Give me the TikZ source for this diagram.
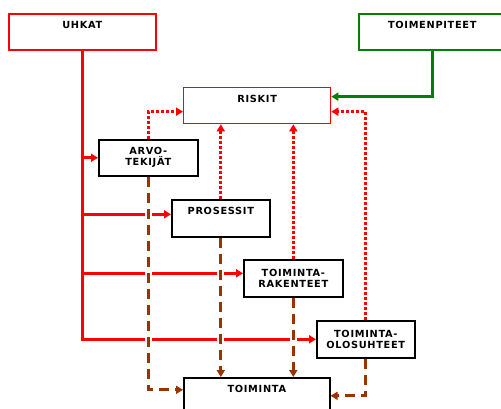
\documentclass[tikz,border=0pt]{standalone}
\usepackage{fontspec}
\setmainfont{DejaVu Sans}
\newfontfamily\lblfont{DejaVu Sans}[LetterSpace=7]
\usetikzlibrary{arrows.meta}
\definecolor{rred}{RGB}{255,0,0}
\definecolor{ggreen}{RGB}{0,128,0}
\definecolor{bbrown}{RGB}{153,51,0}
\pgfdeclarelayer{bg}
\pgfsetlayers{bg,main}
\tikzset{
  box/.style={draw=black, line width=1.6pt, fill=white, anchor=north west,
    font=\lblfont\bfseries\fontsize{9.8}{11}\selectfont, align=center,
    inner xsep=2pt, inner ysep=0pt},
  topbox/.style={text height=7.5pt, text depth=#1, inner ysep=7.5pt},
  redline/.style={draw=rred, line width=3pt, -{Triangle[length=7pt,width=8pt]}},
  reddot/.style={draw=rred, line width=3pt, dash pattern=on 3pt off 2pt, -{Triangle[length=7pt,width=8pt]}},
  greenline/.style={draw=ggreen, line width=3pt, -{Triangle[length=7pt,width=8pt]}},
  brownline/.style={draw=bbrown, line width=3pt, dash pattern=on 10pt off 6pt,
    -{Triangle[length=7pt,width=8pt]},
    preaction={draw=white, line width=7pt, solid}},
}
\begin{document}
\begin{tikzpicture}[x=1pt,y=-1pt]
\useasboundingbox (0,0) rectangle (501,409);
\node[box, draw=rred, topbox=13.5pt, minimum width=147pt] (uh) at (8,13) {UHKAT};
\node[box, draw=ggreen, topbox=13.5pt, minimum width=147pt] (toim) at (358,13) {TOIMENPITEET};
\node[box, draw=rred, line width=1.3pt, topbox=13.5pt, minimum width=147pt] (risk) at (183,87) {RISKIT};
\node[box, minimum width=99pt, minimum height=36pt] (arvo) at (98,139) {ARVO-\\TEKIJÄT};
\node[box, topbox=14.5pt, minimum width=98pt] (pros) at (171,199) {PROSESSIT};
\node[box, minimum width=99pt, minimum height=37pt] (rak) at (243,259) {TOIMINTA-\\RAKENTEET};
\node[box, minimum width=98pt, minimum height=37pt] (olo) at (316,320) {TOIMINTA-\\OLOSUHTEET};
\node[box, topbox=17.5pt, minimum width=146pt] (toi) at (183,377) {TOIMINTA};

\coordinate (pin) at ([yshift=4pt]pros.west);
\coordinate (rin) at ([yshift=5pt]rak.west);
\coordinate (rkl) at ([yshift=-6pt]risk.west);
\coordinate (rkr) at ([yshift=-6pt]risk.east);
\coordinate (rkg) at ([yshift=9pt]risk.east);
\coordinate (tl) at ([yshift=8pt]toi.west);
\coordinate (tr) at ([yshift=2pt]toi.east);

\begin{pgfonlayer}{bg}
\draw[redline] (uh.south) |- (olo.west);
\draw[redline] (uh.south |- arvo.west) -- (arvo.west);
\draw[redline] (uh.south |- pin) -- (pin);
\draw[redline] (uh.south |- rin) -- (rin);

\draw[reddot] (arvo.north) |- (rkl);
\draw[reddot] (pros.north) -- (pros.north |- risk.south);
\draw[reddot] (rak.north) -- (rak.north |- risk.south);
\draw[reddot] (olo.north) |- (rkr);

\draw[greenline] (toim.south) |- (rkg);

\draw[brownline] (arvo.south) |- (tl);
\draw[brownline] (pros.south) -- (pros.south |- toi.north);
\draw[brownline] (rak.south) -- (rak.south |- toi.north);
\draw[brownline] (olo.south) |- (tr);
\end{pgfonlayer}
\end{tikzpicture}
\end{document}
